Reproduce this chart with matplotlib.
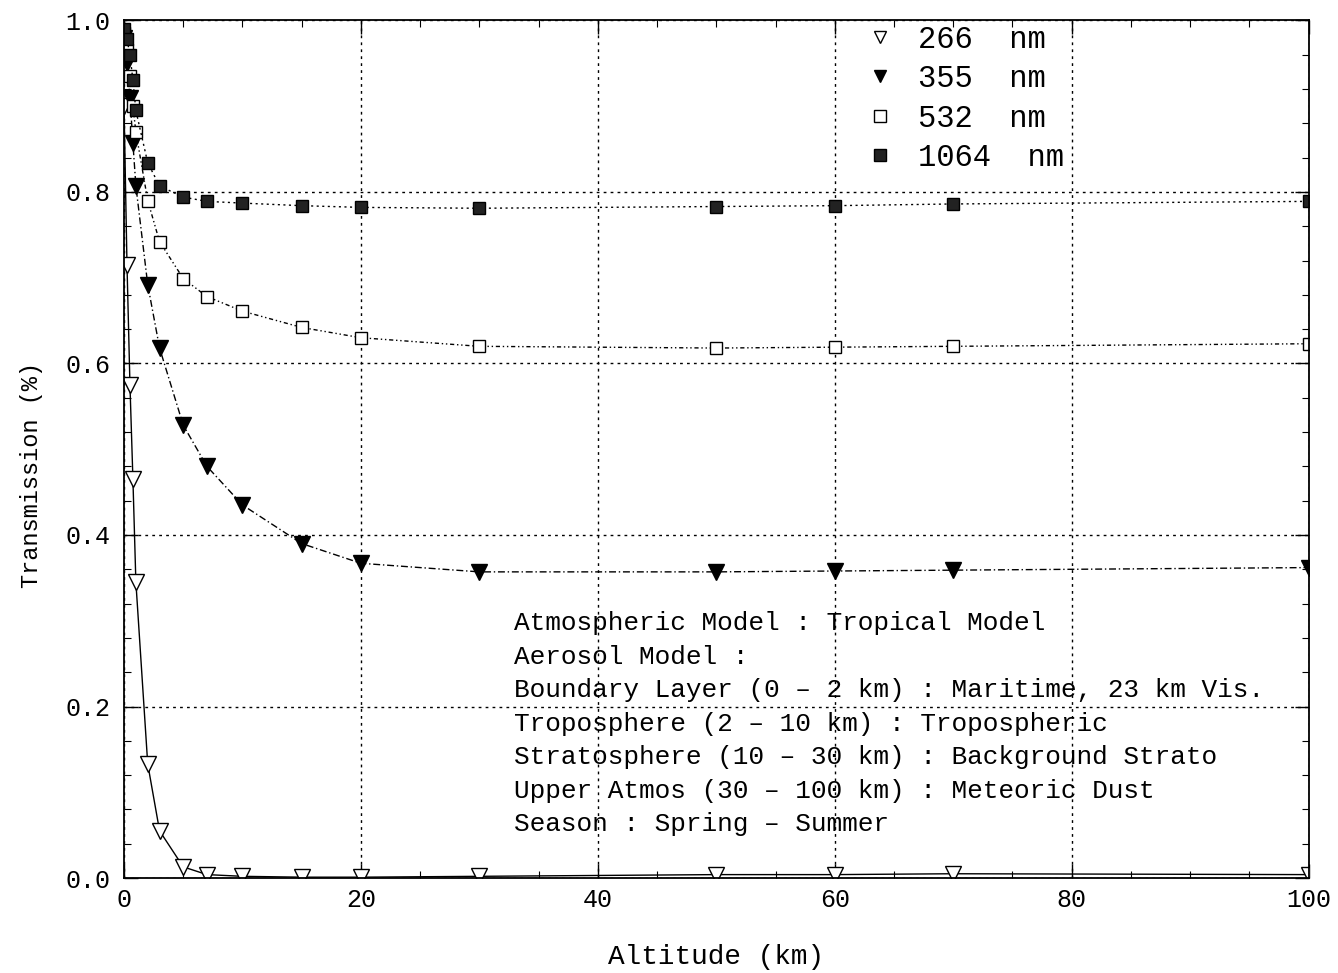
import matplotlib
matplotlib.use("Agg")
import matplotlib.pyplot as plt
from matplotlib.ticker import MultipleLocator

altitude = [0, 0.25, 0.5, 0.75, 1, 2, 3, 5, 7, 10, 15, 20, 30, 50, 60, 70, 100]
t266 = [0.90, 0.715, 0.575, 0.465, 0.345, 0.133, 0.055, 0.013, 0.004, 0.002, 0.001, 0.001, 0.002, 0.004, 0.004, 0.005, 0.004]
t355 = [0.98, 0.95, 0.91, 0.857, 0.807, 0.692, 0.618, 0.528, 0.480, 0.435, 0.390, 0.367, 0.357, 0.357, 0.358, 0.359, 0.362]
t532 = [0.985, 0.965, 0.935, 0.90, 0.870, 0.790, 0.742, 0.699, 0.678, 0.661, 0.642, 0.630, 0.620, 0.618, 0.619, 0.620, 0.623]
t1064 = [0.99, 0.978, 0.96, 0.93, 0.895, 0.834, 0.807, 0.794, 0.789, 0.787, 0.784, 0.782, 0.781, 0.783, 0.784, 0.786, 0.789]
labels = ["266  nm", "355  nm", "532  nm", "1064  nm"]
xticks = [0, 20, 40, 60, 80, 100]
yticks = [0.0, 0.2, 0.4, 0.6, 0.8, 1.0]
notes = [
    "Atmospheric Model : Tropical Model",
    "Aerosol Model :",
    "Boundary Layer (0 \u2013 2 km) : Maritime, 23 km Vis.",
    "Troposphere (2 \u2013 10 km) : Tropospheric",
    "Stratosphere (10 \u2013 30 km) : Background Strato",
    "Upper Atmos (30 \u2013 100 km) : Meteoric Dust",
    "Season : Spring \u2013 Summer",
]

plt.rcParams['font.family'] = ['Liberation Mono', 'DejaVu Sans Mono']

fig = plt.figure(figsize=(13.38, 9.73), dpi=100)
ax = fig.add_axes([0.0927, 0.0976, 0.8853, 0.8814])

ax.plot(altitude, t266, color='black', lw=1.0, ls='-', marker='v', ms=11,
        mfc='white', mec='black', mew=1.0, label=labels[0])
ax.plot(altitude, t355, color='black', lw=1.0, ls=(0, (5, 2, 1, 2)), marker='v', ms=11,
        mfc='black', mec='black', label=labels[1])
ax.plot(altitude, t532, color='black', lw=1.0, ls=(0, (3, 2, 1, 2, 1, 2)), marker='s', ms=9,
        mfc='white', mec='black', mew=1.0, label=labels[2])
ax.plot(altitude, t1064, color='black', lw=1.0, ls=(0, (1.5, 2.5)), marker='s', ms=9,
        mfc='#222222', mec='black', label=labels[3])

ax.set_xlim(0, 100)
ax.set_ylim(0, 1.0)
ax.set_xticks(xticks)
ax.set_yticks(yticks)
ax.set_yticklabels([f"{v:.1f}" for v in yticks])
ax.xaxis.set_minor_locator(MultipleLocator(5))
ax.yaxis.set_minor_locator(MultipleLocator(0.04))
ax.tick_params(which='both', direction='in', top=True, right=True, labelsize=18)
ax.tick_params(which='major', length=10, width=1.0)
ax.tick_params(which='minor', length=5, width=0.8)
ax.tick_params(axis='x', pad=7)
ax.tick_params(axis='y', pad=10)
ax.grid(True, which='major', color='black', ls=(0, (2, 3)), lw=1.0)
for s in ax.spines.values():
    s.set_linewidth(1.3)

ax.set_xlabel("Altitude (km)", fontsize=20, labelpad=23)
ax.set_ylabel("Transmission (%)", fontsize=17, labelpad=15)
ax.yaxis.set_label_coords(-0.068, 0.47)

leg = ax.legend(loc='upper left', bbox_to_anchor=(0.607, 1.02), frameon=False, fontsize=22,
                handlelength=1.0, handletextpad=0.75, labelspacing=0.31, borderaxespad=0.3)
for h in leg.legend_handles:
    h.set_linestyle('None')
    h.set_markersize(8)

y0 = 0.297
for i, line in enumerate(notes):
    ax.text(0.329, y0 - i * 0.039, line, transform=ax.transAxes, fontsize=18.8,
            va='center', ha='left')

fig.savefig("out.png", dpi=100)
